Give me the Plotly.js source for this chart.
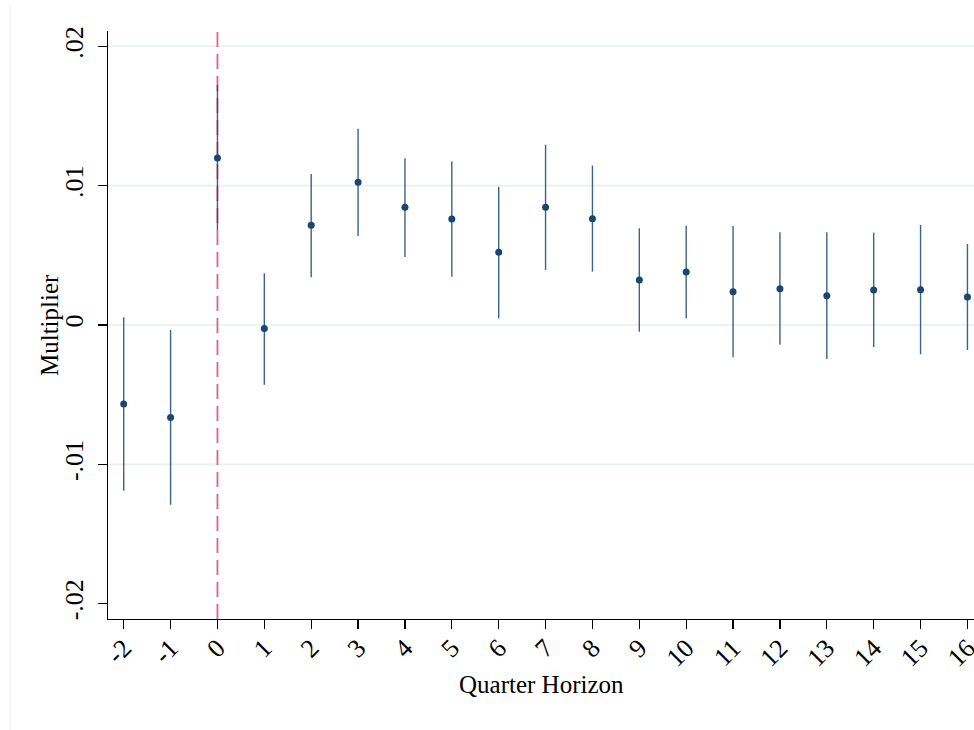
<!DOCTYPE html>
<html>
<head>
<meta charset="utf-8">
<script src="https://cdn.plot.ly/plotly-3.0.1.min.js"></script>
<style>html,body{margin:0;padding:0;background:#fff;}#chart{width:974px;height:730px;}</style>
</head>
<body>
<div id="chart"></div>
<script>
const horizons = [-2,-1,0,1,2,3,4,5,6,7,8,9,10,11,12,13,14,15,16];
const estimates = [-0.00567,-0.00663,0.01199,-0.00026,0.00716,0.01024,0.00845,0.00761,0.00522,0.00845,0.00763,0.00323,0.00380,0.00239,0.00261,0.00210,0.00251,0.00253,0.00201];
const ciUpper = [0.00055,-0.00036,0.01723,0.00371,0.01084,0.01409,0.01196,0.01173,0.00993,0.01294,0.01144,0.00694,0.00713,0.00711,0.00665,0.00665,0.00663,0.00718,0.00581];
const ciLower = [-0.0119,-0.0129,0.00682,-0.00429,0.00342,0.00639,0.00488,0.00347,0.00048,0.00395,0.00383,-0.00048,0.00048,-0.00232,-0.00141,-0.00244,-0.00158,-0.00210,-0.00179];
const yTickVals = [-0.02,-0.01,0,0.01,0.02];
const yTickText = ['-.02','-.01','0','.01','.02'];
const gridVals = [-0.01,0,0.01,0.02];
const xTickVals = horizons;
const xTickText = horizons.map(String);
const eventHorizon = 0;
const xTitle = 'Quarter Horizon';
const yTitle = 'Multiplier';

const errPlus = ciUpper.map((u,i)=>u-estimates[i]);
const errMinus = estimates.map((e,i)=>e-ciLower[i]);

const navy = '#1a476f';
const serif = '"Liberation Serif", "Times New Roman", serif';

const trace = {
  type:'scatter', mode:'markers', x:horizons, y:estimates,
  marker:{color:navy, size:7},
  error_y:{type:'data', symmetric:false, array:errPlus, arrayminus:errMinus,
    color:'rgba(26,71,111,0.85)', thickness:1.4, width:0},
  hoverinfo:'skip', cliponaxis:false
};

const shapes = gridVals.map(v=>({type:'line', xref:'paper', x0:0, x1:1, yref:'y', y0:v, y1:v,
  line:{color:'#e9f0f2', width:1.6}, layer:'below'}));
shapes.push({type:'line', xref:'x', x0:eventHorizon, x1:eventHorizon, yref:'paper', y0:0, y1:1,
  line:{color:'#d9668c', width:1.8, dash:'15px,7px'}, layer:'below'});
shapes.push({type:'line', xref:'paper', x0:-0.1132, x1:-0.1132, yref:'paper', y0:-0.19, y1:1.044,
  line:{color:'#ececec', width:1}, layer:'below'});

const layout = {
  width:974, height:730,
  margin:{l:108, r:0, t:31, b:111},
  paper_bgcolor:'#fff', plot_bgcolor:'#fff',
  showlegend:false,
  font:{family:serif, color:'#000', size:26},
  xaxis:{range:[-2.335,16.14], tickvals:xTickVals, ticktext:xTickText, tickangle:-45,
    showgrid:false, zeroline:false, showline:true, linecolor:'#000', linewidth:1.3,
    ticks:'outside', ticklen:9, tickwidth:1.3, tickcolor:'#000',
    tickfont:{family:serif, size:26}, ticklabeloverflow:'allow', ticklabelstandoff:-7},
  yaxis:{range:[-0.0211,0.0211], tickvals:yTickVals, ticktext:yTickText, tickangle:-90,
    showgrid:false, zeroline:false, showline:true, linecolor:'#000', linewidth:1.3,
    ticks:'outside', ticklen:9, tickwidth:1.3, tickcolor:'#000',
    tickfont:{family:serif, size:26}, ticklabelstandoff:4},
  annotations:[
    {text:xTitle, xref:'paper', yref:'paper', x:0.5, y:-0.1116, xanchor:'center', yanchor:'middle',
      showarrow:false, font:{family:serif, size:25, color:'#000'}},
    {text:yTitle, xref:'paper', yref:'paper', x:-0.0681, y:0.5, xanchor:'center', yanchor:'middle',
      textangle:-90, showarrow:false, font:{family:serif, size:25, color:'#000'}}
  ],
  shapes:shapes
};

Plotly.newPlot('chart', [trace], layout, {displayModeBar:false, staticPlot:true});
</script>
</body>
</html>
